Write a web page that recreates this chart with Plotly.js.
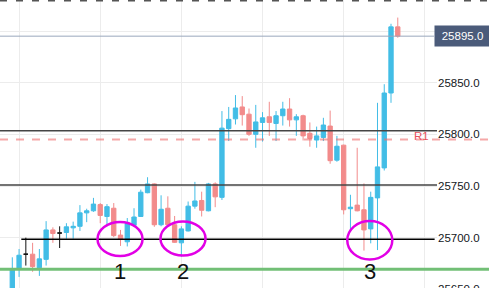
<!DOCTYPE html>
<html><head><meta charset="utf-8">
<script src="https://cdn.plot.ly/plotly-3.0.1.min.js"></script>
<style>
html,body{margin:0;padding:0;background:#fff;overflow:hidden}
#wrap{width:489px;height:288px;overflow:hidden}
#chart{width:489px;height:310px}
</style>
</head><body><div id="wrap"><div id="chart"></div></div>
<script>
// ---- data ----
const openPx  = [25648,25670,25684,25684,25671,25679,25707.5,25704.5,25705,25709.5,25711,25724,25726,25732,25720.5,25728.5,25702.5,25696,25712,25720.5,25743.5,25752,25712.5,25728.5,25712.5,25695,25706.5,25730.5,25736,25726,25752,25739,25805.5,25815,25826.5,25819.5,25800,25811.5,25817,25810.5,25818,25824.5,25814,25818,25801,25794.5,25797,25808,25775,25789.5,25728,25731.5,25727,25708.5,25738.5,25767.5,25840,25904];
const highPx  = [25681,25689,25700,25695,25689,25716,25710,25711,25714,25715.5,25731.5,25728,25738.5,25733.5,25732.5,25733.5,25707.5,25719,25728.5,25746.5,25758.5,25752.5,25741,25740,25721,25711,25735,25754,25744.5,25753,25753.5,25822.5,25826.5,25838,25837,25825,25828.5,25821.5,25831.5,25822.5,25831.5,25835,25819.5,25819,25811.5,25807.5,25816,25823,25798.5,25790,25741.5,25787,25752.5,25744.5,25830.5,25848.5,25907,25913];
const lowPx   = [25642,25662,25673,25667,25663,25673,25695,25690,25699,25699,25706.5,25715,25725,25714,25711,25700.5,25692,25691.5,25711.5,25720,25743,25710.5,25711,25710.5,25695,25681.5,25706,25728,25720.5,25725.5,25729.5,25736.5,25793.5,25809.5,25808.5,25798.5,25787,25793,25798.5,25793.5,25808.5,25807.5,25798.5,25794,25788,25787,25793.5,25771.5,25773.5,25722.5,25707.5,25725.5,25687.5,25694.5,25688,25765,25830.5,25893.5];
const closePx = [25670,25683,25684,25672,25679.5,25707.5,25704,25704.5,25710.5,25711,25724,25726,25732.5,25721.5,25730,25702,25698.5,25714,25720,25744,25752,25712.5,25727.5,25712.5,25695.5,25708.5,25730.5,25735.5,25726.5,25752,25739.5,25806,25814.5,25825.5,25819,25800,25812,25816,25811.5,25818,25824.5,25814,25817,25798.5,25796,25798.5,25809,25774.5,25788.5,25727,25729.5,25726,25707.5,25739,25768.5,25840,25904,25895];
const neutralIdx = [2, 7];            // candles drawn in black (open == close)
const priceTicks = [25650, 25700, 25750, 25800, 25850];   // labelled ticks (25900 sits under the price box)
const blackLevels = [25803.5, 25751, 25698.5];
const r1Level = 25795;
const r1Label = 'R1';
const supportLevel = 25669.5;
const topDashedLevel = 25929.5;
const markLabels = ['1', '2', '3'];

// ---- styles ----
const BLUE = '#42bde6', RED = '#f28b8b';
const idx = openPx.map((_, i) => i);
const keepMain = i => !neutralIdx.includes(i);
const keepNeutral = i => neutralIdx.includes(i);
const pick = (arr, f) => arr.filter((_, i) => f(i));

function cs(f, inc, dec) {
  return {
    type: 'candlestick',
    x: pick(idx, f), open: pick(openPx, f), high: pick(highPx, f),
    low: pick(lowPx, f), close: pick(closePx, f),
    increasing: {line: {color: inc, width: 1}, fillcolor: inc},
    decreasing: {line: {color: dec, width: 1}, fillcolor: dec},
    whiskerwidth: 0, hoverinfo: 'skip', showlegend: false
  };
}
const traces = [cs(keepMain, BLUE, RED), cs(keepNeutral, '#111', '#111')];

const lastPrice = closePx[closePx.length - 1];
const RIGHT = 489 / 437;   // paper x of the right window edge

const shapes = [];
shapes.push({type:'line', xref:'paper', yref:'y', x0:0, x1:434/437, y0:lastPrice, y1:lastPrice,
             line:{color:'#9aa7bd', width:1}});
shapes.push({type:'line', xref:'paper', yref:'y', x0:0, x1:RIGHT, y0:topDashedLevel, y1:topDashedLevel,
             line:{color:'#555', width:2, dash:'7px,9px'}});
blackLevels.forEach((v, k) => {
  if (k === 2) {
    shapes.push({type:'line', xref:'x', yref:'y', x0:1.33, x1:62.45, y0:v, y1:v, line:{color:'#000', width:1.5}});
  } else {
    shapes.push({type:'line', xref:'paper', yref:'y', x0:0, x1:1, y0:v, y1:v, line:{color:'#454545', width:1.5}});
  }
});
shapes.push({type:'line', xref:'paper', yref:'y', x0:0, x1:RIGHT, y0:r1Level, y1:r1Level,
             line:{color:'rgba(238,110,110,0.6)', width:2, dash:'8px,8px'}});
shapes.push({type:'line', xref:'paper', yref:'y', x0:0, x1:RIGHT, y0:supportLevel, y1:supportLevel,
             line:{color:'#72bf76', width:3}});

const marks = [
  {cx:15.93, cy:25698.7, rx:3.33, ry:16.5},
  {cx:25.24, cy:25699.2, rx:3.33, ry:16.5},
  {cx:52.86, cy:25697.5, rx:3.33, ry:18.7}
];
marks.forEach(m => shapes.push({type:'circle', xref:'x', yref:'y',
  x0:m.cx - m.rx, x1:m.cx + m.rx, y0:m.cy - m.ry, y1:m.cy + m.ry,
  line:{color:'#e200e6', width:2.5}}));

const annotations = [];
annotations.push({xref:'paper', yref:'y', x:434/437, xanchor:'left', y:lastPrice, yanchor:'middle',
  text:lastPrice.toFixed(1), showarrow:false, bgcolor:'#4b5b7a', width:55, height:20, borderpad:0,
  font:{family:'Liberation Sans, Arial, sans-serif', size:11.5, color:'#ffffff'}});
annotations.push({xref:'paper', yref:'y', x:431/437, xanchor:'right', y:r1Level, yanchor:'middle', yshift:4,
  text:r1Label, showarrow:false, font:{family:'Liberation Sans, Arial, sans-serif', size:11.5, color:'#e8505b'}});
marks.forEach((m, k) => annotations.push({xref:'x', yref:'y', x:m.cx, y:25667.3, xanchor:'center', yanchor:'middle',
  text:markLabels[k], showarrow:false, font:{family:'Liberation Sans, Arial, sans-serif', size:22, color:'#111'}}));

const layout = {
  width: 489, height: 310,
  margin: {l:0, r:52, t:0, b:0, pad:0},
  paper_bgcolor: '#ffffff', plot_bgcolor: '#ffffff',
  showlegend: false,
  boxgap: 0.2, boxgroupgap: 0.2,
  xaxis: {range:[-1.82, 62.8], showticklabels:false, ticks:'', showgrid:true, gridcolor:'#ececec', gridwidth:1,
          tick0:1, dtick:12, zeroline:false, showline:false, rangeslider:{visible:false}, fixedrange:true},
  yaxis: {side:'right', range:[25630, 25930], tickmode:'array', tickvals:priceTicks,
          ticktext:priceTicks.map(v => v.toFixed(1)), showgrid:true,
          gridcolor:'#ececec', gridwidth:1, zeroline:false, showline:false, ticks:'',
          minor:{tick0:0, dtick:50, showgrid:true, gridcolor:'#ececec', gridwidth:1, ticks:''},
          tickfont:{family:'Liberation Sans, Arial, sans-serif', size:11.5, color:'#131722'}, fixedrange:true},
  shapes: shapes,
  annotations: annotations
};
Plotly.newPlot('chart', traces, layout, {staticPlot:true, displayModeBar:false});
</script>
</body></html>
